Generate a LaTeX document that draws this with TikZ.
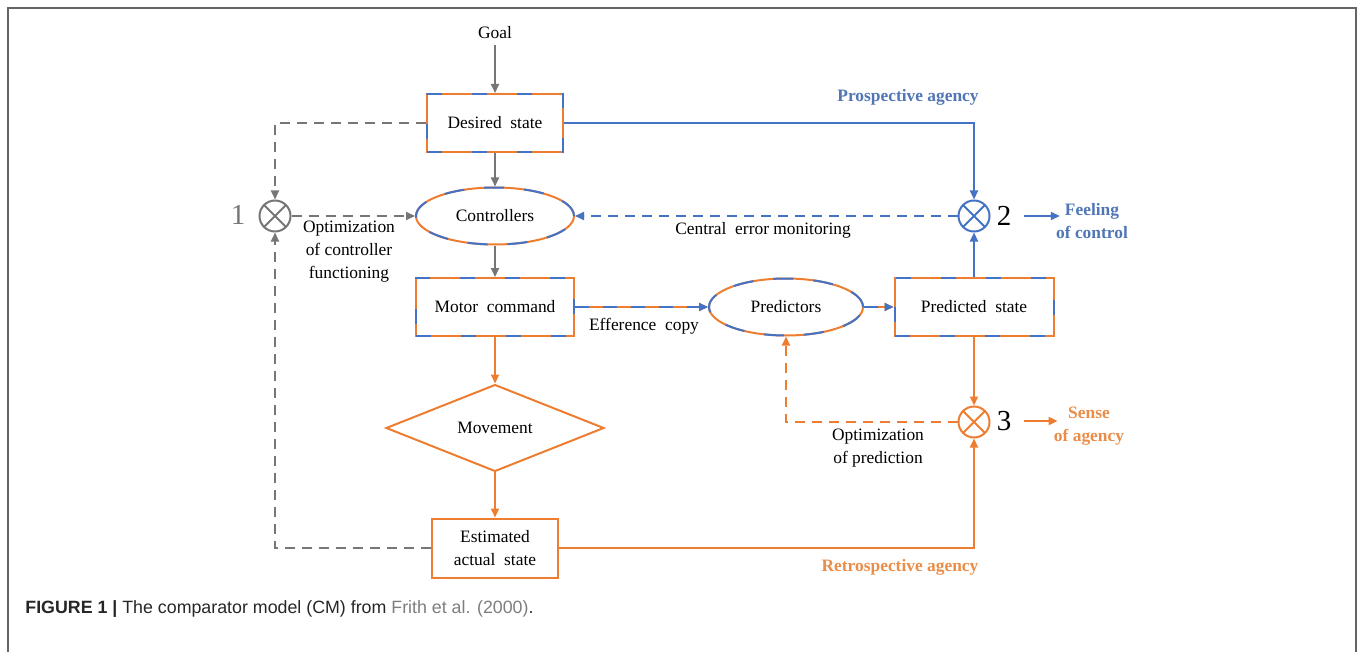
\documentclass[tikz,border=0pt]{standalone}
\usepackage{fontspec}
\setmainfont{Liberation Serif}
\newfontfamily\capfont{Liberation Sans}
\usetikzlibrary{shapes.geometric, arrows.meta}

\definecolor{orgC}{RGB}{237,125,49}
\definecolor{bluC}{RGB}{68,114,196}
\definecolor{gryC}{RGB}{118,118,118}
\definecolor{bluT}{RGB}{80,118,182}
\definecolor{orgT}{RGB}{234,141,72}
\definecolor{frmC}{RGB}{100,100,100}
\definecolor{lnkC}{RGB}{125,125,125}

\tikzset{
  lbl/.style={font=\fontsize{8.7}{11.5}\selectfont, align=center, inner sep=0pt},
  tag/.style={lbl, font=\fontsize{8.7}{11.5}\selectfont\bfseries},
  num/.style={font=\fontsize{14.5}{16}\selectfont, inner sep=0pt},
  twotone/.style={draw=orgC, line width=1pt, postaction={draw=bluC, line width=1pt, dash pattern=#1}},
  twotone/.default={on 7.5pt off 15pt},
  box/.style={rectangle, twotone, minimum width=#1, minimum height=29pt, lbl},
  oval/.style={ellipse, twotone={on 10pt off 10pt}, minimum height=28.5pt, lbl},
  plainbox/.style={rectangle, draw=orgC, line width=1pt, minimum width=#1, minimum height=29.5pt, lbl},
  comp/.style={circle, draw=#1, line width=1pt, minimum size=15.5pt, inner sep=0pt,
    path picture={\draw[#1, line width=1pt] (path picture bounding box.south west) -- (path picture bounding box.north east)
      (path picture bounding box.north west) -- (path picture bounding box.south east);}},
  tip/.style={-{Triangle[length=4.5pt,width=4pt]}},
  gryarr/.style={draw=gryC, line width=1pt, tip},
  grydash/.style={gryarr, dash pattern=on 5pt off 3.5pt},
  bluarr/.style={draw=bluC, line width=1pt, tip},
  bludash/.style={bluarr, dash pattern=on 5pt off 3.5pt},
  orgarr/.style={draw=orgC, line width=1pt, tip},
  orgdash/.style={orgarr, dash pattern=on 5pt off 3.5pt},
}

\begin{document}
\begin{tikzpicture}[x=0.5pt, y=-0.5pt]
  \useasboundingbox (0,0) rectangle (1358,652);
  % frame
  \draw[frmC, line width=1pt] (8,652) -- (8,8) -- (1356,8) -- (1356,652);

  % main chain
  \node[lbl] (goal) at (495,33) {Goal};
  \node[box=68pt] (des) at (495,123) {Desired\ \ state};
  \node[oval, minimum width=79pt] (ctrl) at (495,216) {Controllers};
  \node[box=79pt] (mot) at (495,307) {Motor\ \ command};
  \node[diamond, draw=orgC, line width=1pt, minimum width=109pt, minimum height=42.5pt, lbl] (mov) at (495,428) {Movement};
  \node[plainbox=63pt] (est) at (495,548) {Estimated\\actual\ \ state};
  \node[oval, minimum width=77pt] (pred) at (786,307) {Predictors};
  \node[box=79.5pt] (pst) at (974,307) {Predicted\ \ state};

  % comparators
  \node[comp=gryC] (c1) at (275,216) {};
  \node[comp=bluC] (c2) at (974,216) {};
  \node[comp=orgC] (c3) at (974,422) {};
  \node[num, text=gryC] (n1) at (238,215) {1};
  \node[num] (n2) at (1004,216) {2};
  \node[num] (n3) at (1004,421) {3};

  % labels
  \node[tag, text=bluT] (prosp) at (908,97) {Prospective agency};
  \node[tag, text=bluT] (feel) at (1092,221) {Feeling\\of control};
  \node[tag, text=orgT] (sense) at (1089,426) {Sense\\of agency};
  \node[tag, text=orgT] (retro) at (900,567) {Retrospective agency};
  \node[lbl] (cem) at (763,230) {Central\ \ error monitoring};
  \node[lbl] (eff) at (644,326) {Efference\ \ copy};
  \node[lbl] (optc) at (349,252) {Optimization\\of controller\\functioning};
  \node[lbl] (optp) at (878,448) {Optimization\\of prediction};

  % connectors
  \draw[gryarr, shorten <=2.5pt] (goal) -- (des);
  \draw[gryarr] (des) -- (ctrl);
  \draw[gryarr] (ctrl) -- (mot);
  \draw[bluarr] (des.east) -| (c2);
  \draw[bluarr] (pst) -- (c2);
  \draw[bludash] (c2) -- (ctrl);
  \draw[twotone={on 7pt off 7pt}, tip] (mot) -- (pred);
  \draw[twotone={on 7pt off 7pt}, tip] (pred) -- (pst);
  \draw[orgarr] (pst) -- (c3);
  \draw[orgarr] (est.east) -| (c3);
  \draw[orgdash] (c3) -| (pred);
  \draw[orgarr] (mot) -- (mov);
  \draw[orgarr] (mov) -- (est);
  \draw[grydash] (des.west) -| (c1);
  \draw[grydash] (est.west) -| (c1);
  \draw[grydash] (c1) -- (ctrl);
  \draw[bluarr, shorten <=6pt, shorten >=-2pt] (n2) -- (feel.west |- n2);
  \draw[orgarr, shorten <=6pt, shorten >=-2pt] (n3) -- (sense.west |- n3);

  % caption
  \node[anchor=west, inner sep=0pt, font=\capfont\fontsize{8.9}{11}\selectfont, text=black!85] (cap) at (25,609)
    {\textbf{FIGURE 1 |} The comparator model (CM) from \textcolor{lnkC}{Frith et al. (2000)}.};
\end{tikzpicture}
\end{document}
